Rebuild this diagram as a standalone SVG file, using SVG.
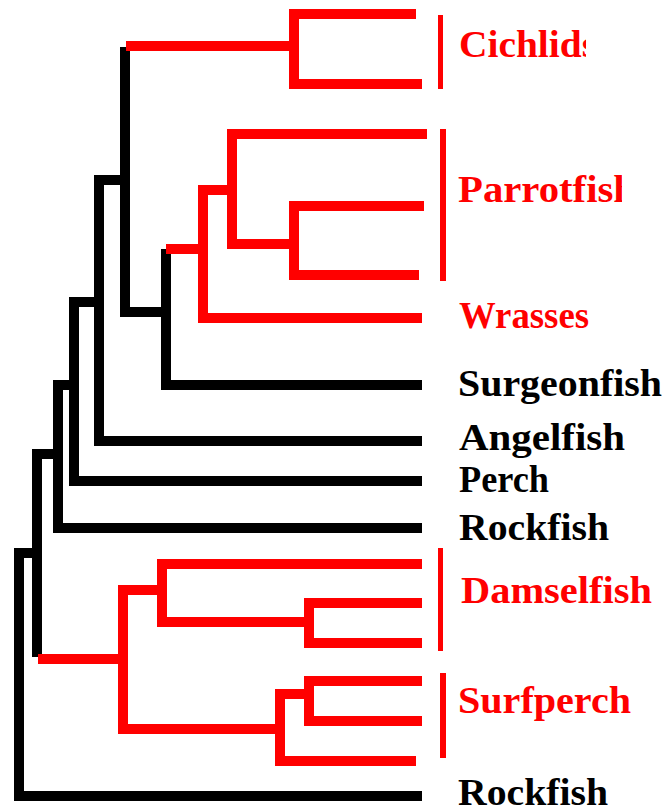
<svg xmlns="http://www.w3.org/2000/svg" width="668" height="808" viewBox="0 0 668 808">
<style>
.b{fill:none;stroke:#000;stroke-width:10;stroke-linejoin:miter;stroke-linecap:butt}
.r{fill:none;stroke:#ff0000;stroke-width:10;stroke-linejoin:miter;stroke-linecap:butt}
.bar{fill:#ff0000}
.t{font-family:"Liberation Serif","Times New Roman",serif;font-weight:bold;font-size:37px}
.tr{fill:#ff0000}
.tb{fill:#000}
</style>
<defs>
<clipPath id="clipC"><rect x="440" y="0" width="146" height="100"/></clipPath>
<clipPath id="clipP"><rect x="440" y="150" width="182" height="80"/></clipPath>
</defs>
<rect width="668" height="808" fill="#fff"/>
<g id="connectors">
<path class="b" d="M422 796H19V553H37"/>
<path class="b" d="M37 657V454H58"/>
<path class="b" d="M422 528H58V385H74"/>
<path class="b" d="M422 481H74V302H99"/>
<path class="b" d="M422 441H99V180H125"/>
<path class="b" d="M125 47V312H166"/>
<path class="b" d="M166 249V385H422"/>
<path class="r" d="M126 46H294"/>
<path class="r" d="M416 14H294V84H422"/>
<path class="r" d="M166 249H203"/>
<path class="r" d="M232 190H203V318H422"/>
<path class="r" d="M427 134H232V244H294"/>
<path class="r" d="M424 206H294V275H419"/>
<path class="r" d="M38 659H123"/>
<path class="r" d="M162 590H123V729H280"/>
<path class="r" d="M422 564H162V622H309"/>
<path class="r" d="M422 603H309V643H422"/>
<path class="r" d="M309 694H280V761H416"/>
<path class="r" d="M422 681H309V721H422"/>
</g>
<g id="cichlids">
<rect class="bar" x="438" y="15" width="5" height="74"/>
<text class="t tr" x="459" y="57" textLength="138" lengthAdjust="spacingAndGlyphs" clip-path="url(#clipC)">Cichlids</text>
</g>
<g id="parrotfish">
<rect class="bar" x="440" y="129" width="6" height="152"/>
<text class="t tr" x="458" y="202" textLength="178" lengthAdjust="spacingAndGlyphs" clip-path="url(#clipP)">Parrotfish</text>
</g>
<g id="wrasses">
<text class="t tr" x="459" y="328" textLength="130" lengthAdjust="spacingAndGlyphs">Wrasses</text>
</g>
<g id="surgeonfish">
<text class="t tb" x="458" y="396" textLength="204" lengthAdjust="spacingAndGlyphs">Surgeonfish</text>
</g>
<g id="angelfish">
<text class="t tb" x="459" y="450" textLength="166" lengthAdjust="spacingAndGlyphs">Angelfish</text>
</g>
<g id="perch">
<text class="t tb" x="459" y="492" textLength="90" lengthAdjust="spacingAndGlyphs">Perch</text>
</g>
<g id="rockfish1">
<text class="t tb" x="459" y="540" textLength="150" lengthAdjust="spacingAndGlyphs">Rockfish</text>
</g>
<g id="damselfish">
<rect class="bar" x="438" y="548" width="5" height="103"/>
<text class="t tr" x="461" y="603" textLength="191" lengthAdjust="spacingAndGlyphs">Damselfish</text>
</g>
<g id="surfperch">
<rect class="bar" x="440" y="673" width="6" height="85"/>
<text class="t tr" x="458" y="713" textLength="173" lengthAdjust="spacingAndGlyphs">Surfperch</text>
</g>
<g id="rockfish2">
<text class="t tb" x="458" y="805" textLength="150" lengthAdjust="spacingAndGlyphs">Rockfish</text>
</g>
</svg>
